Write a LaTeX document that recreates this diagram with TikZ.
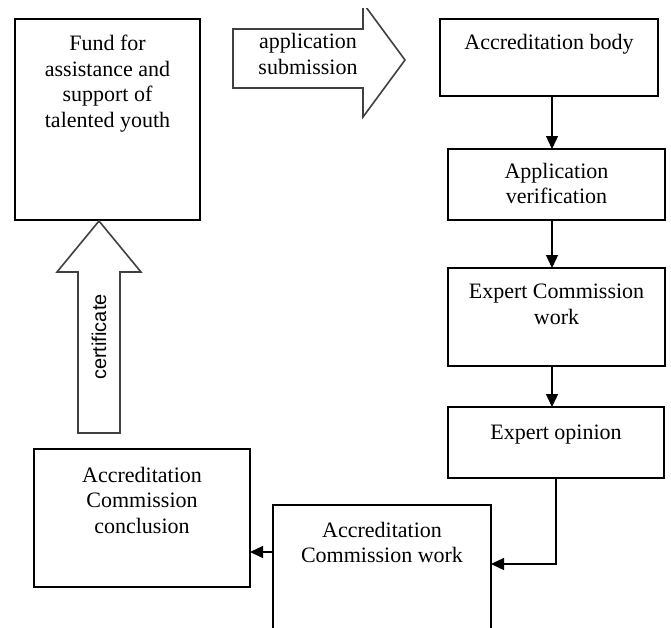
\documentclass[tikz,border=0pt]{standalone}
\usepackage{fontspec}
\setmainfont{Liberation Serif}
\newfontfamily\certfont{Liberation Sans}
\usetikzlibrary{positioning,arrows.meta}

\begin{document}
\begin{tikzpicture}[x=1pt, y=-1pt,
    box/.style={draw, line width=1.3pt, inner sep=0pt, outer sep=0pt},
    lbl/.style={font=\fontsize{22}{25.5}\selectfont, align=center, inner sep=0pt},
    arr/.style={line width=1.3pt, -{Triangle[length=13pt,width=12pt]}},
    blockarrow/.style={draw=black!75, line width=1.6pt, line join=miter}]
    \useasboundingbox (0,0) rectangle (671,627);
    \clip (0,0) rectangle (671,627);

    \node[box, minimum width=185pt, minimum height=201pt](fund) at (107.5,119.5) {};
    \node[box, minimum width=218pt, minimum height=77pt](body) at (549,57.5) {};
    \node[box, minimum width=217pt, minimum height=71pt](verif) at (556.5,184.5) {};
    \node[box, minimum width=217pt, minimum height=98pt](expcom) at (556.5,317) {};
    \node[box, minimum width=216pt, minimum height=71pt](opinion) at (556,442.5) {};
    \node[box, minimum width=218pt, minimum height=155pt](accwork) at (382,582.5) {};
    \node[box, minimum width=216pt, minimum height=138pt](conc) at (142,518) {};

    \node[lbl, below=16pt of fund.north](fund_text) {Fund for\\assistance and\\support of\\talented youth};
    \node[lbl, below=15pt of body.north](body_text) {Accreditation body};
    \node[lbl, below=14pt of verif.north](verif_text) {Application\\verification};
    \node[lbl, below=16pt of expcom.north](expcom_text) {Expert Commission\\work};
    \node[lbl, below=18pt of opinion.north](opinion_text) {Expert opinion};
    \node[lbl, below=17pt of accwork.north](accwork_text) {Accreditation\\Commission work};
    \node[lbl, below=18pt of conc.north](conc_text) {Accreditation\\Commission\\conclusion};

    % block arrows
    \begin{scope}
        \clip (0,8) rectangle (671,627);
        \draw[blockarrow] (233,29) -- (363,29) -- (363,3) -- (405,60) -- (363,117) -- (363,88) -- (233,88) -- cycle;
    \end{scope}
    \draw[blockarrow] (78,433) -- (78,272) -- (57,272) -- (99,221) -- (141,272) -- (120,272) -- (120,433) -- cycle;
    \node[lbl](submit_text) at (308,54) {application\\submission};
    \node[inner sep=0pt, rotate=90, font=\certfont\fontsize{20}{22}\selectfont](cert_text) at (99,337) {certificate};

    \coordinate (spine) at (552,0);
    \draw[arr] (body.south -| spine) -- (verif.north -| spine);
    \draw[arr] (verif.south -| spine) -- (expcom.north -| spine);
    \draw[arr] (expcom.south -| spine) -- (opinion.north -| spine);
    \draw[arr] (opinion.south) |- ([yshift=-59pt]accwork.north east);
    \draw[arr] ([yshift=-47pt]accwork.north west) -- ([yshift=-47pt]accwork.north west -| conc.east);
\end{tikzpicture}
\end{document}
